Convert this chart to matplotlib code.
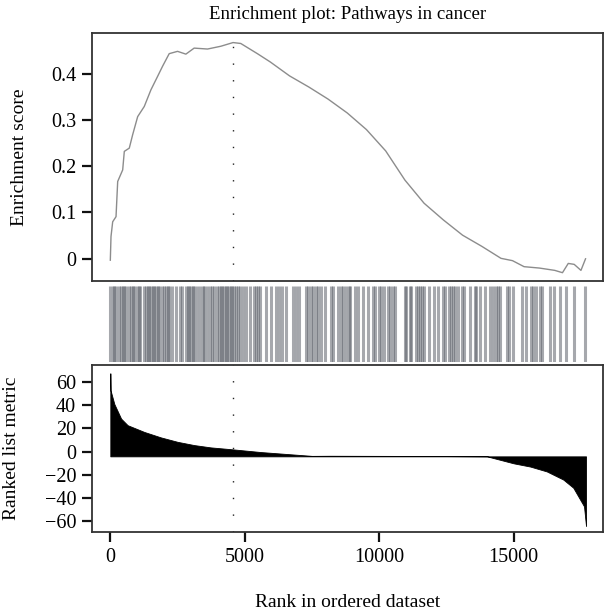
import matplotlib
matplotlib.use("Agg")
import matplotlib.pyplot as plt

plt.rcParams["font.family"] = ["Liberation Serif", "DejaVu Serif"]
plt.rcParams["font.size"] = 13.5

# --- running enrichment score (rank, ES) ---
es_rank = [0, 25, 88, 212, 274, 460, 520, 705, 831, 1017, 1263, 1511, 1759,
           1945, 2190, 2500, 2810, 3118, 3615, 4109, 4566, 4852, 5471, 5952,
           6667, 7383, 8097, 8812, 9528, 10243, 10958, 11671, 12387,
           13103, 13816, 14532, 14960, 15390, 15962, 16533, 16819, 17034,
           17255, 17506, 17677]
es_score = [-0.003, 0.048, 0.080, 0.091, 0.167, 0.192, 0.232, 0.239, 0.268,
            0.307, 0.329, 0.365, 0.394, 0.416, 0.443, 0.448, 0.442, 0.455,
            0.453, 0.459, 0.467, 0.465, 0.443, 0.425, 0.395, 0.371,
            0.345, 0.315, 0.279, 0.233, 0.170, 0.120, 0.084, 0.051, 0.027,
            0.001, -0.004, -0.017, -0.020, -0.025, -0.030, -0.010, -0.012,
            -0.025, 0.000]

# --- gene set hits (ranks) ---
hits = [0, 88, 150, 212, 335, 397, 459, 521, 583, 706, 768, 830, 892, 991,
        1053, 1115, 1263, 1325, 1387, 1449, 1511, 1573, 1634, 1696, 1758,
        1820, 1907, 1981, 2068, 2130, 2191, 2278, 2439, 2588, 2662, 2810,
        2872, 2934, 2996, 3058, 3120, 3206, 3330, 3429, 3491, 3590, 3701,
        3775, 3849, 3986, 4047, 4109, 4171, 4233, 4295, 4357, 4419, 4481,
        4543, 4605, 4666, 4753, 4827, 4951, 5038, 5199, 5348, 5422, 5496,
        5570, 5779, 5965, 6176, 6274, 6398, 6522, 6807, 6893, 7017, 7265,
        7352, 7451, 7537, 7636, 7723, 7823, 7971, 8193, 8280, 8466, 8564,
        8663, 8750, 8874, 8897, 9095, 9219, 9392, 9590, 9776, 9838, 9986,
        10085, 10184, 10332, 10394, 10518, 10605, 10951, 11013, 11136, 11198,
        11371, 11446, 11520, 11594, 11668, 11842, 12027, 12188, 12373, 12435,
        12608, 12683, 12757, 12831, 12918, 13078, 13165, 13375, 13549, 13610,
        13759, 13944, 14130, 14217, 14340, 14415, 14501, 14748, 14835, 14996,
        15317, 15478, 15651, 15738, 15825, 15985, 16072, 16357, 16517, 16715,
        16963, 17260, 17655]

# --- ranked list metric ---
metric_rank = [0, 10, 150, 400, 645, 1263, 1882, 2500, 3118, 3737, 4566,
               5594, 7500, 8190, 10000, 12000, 14010, 15000, 15620, 16237,
               16850, 17220, 17470, 17620, 17695]
metric_value = [67.5, 52.7, 41.0, 28.5, 22.8, 17.0, 12.3, 8.5, 5.7, 3.7, 2.0,
                -0.3, -3.6, -3.5, -3.6, -3.7, -4.0, -10.0, -12.8, -17.0,
                -24.0, -31.0, -41.0, -47.0, -64.0]
metric_base = -4.0

peak_rank = 4566
x_ticks = [0, 5000, 10000, 15000]
es_ticks = [0, 0.1, 0.2, 0.3, 0.4]
es_ticklabels = ["0", "0.1", "0.2", "0.3", "0.4"]
metric_ticks = [-60, -40, -20, 0, 20, 40, 60]

xlim = (-700, 18330)

fig = plt.figure(figsize=(6.04, 6.12), dpi=100)
ax1 = fig.add_axes([0.1515, 0.5408, 0.847, 0.4048])
ax2 = fig.add_axes([0.1515, 0.4085, 0.847, 0.1242])
ax3 = fig.add_axes([0.1515, 0.1302, 0.847, 0.2739])

spine_col = "#333333"
for ax in (ax1, ax3):
    for s in ax.spines.values():
        s.set_linewidth(1.3)
        s.set_color(spine_col)
    ax.tick_params(direction="out", length=7, width=1.6, color="#111111",
                   labelsize=14.5, pad=4)
    ax.set_xlim(*xlim)

# top: enrichment score
ax1.plot(es_rank, es_score, color="#8c8c8c", lw=1.0)
ax1.axvline(peak_rank, color="#222222", lw=1.0, ls=(0, (1, 11)))
ax1.set_ylim(-0.048, 0.487)
ax1.set_yticks(es_ticks)
ax1.set_yticklabels(es_ticklabels)
ax1.set_xticks([])
ax1.set_ylabel("Enrichment score", fontsize=14)
ax1.yaxis.set_label_coords(-0.125, 0.5)
ax1.set_title("Enrichment plot: Pathways in cancer", fontsize=13.5, pad=10)

# middle: hit barcode
ax2.vlines(hits, 0, 1, color="#5d626b", alpha=0.55, lw=2.2)
ax2.set_xlim(*xlim)
ax2.set_ylim(0, 1)
ax2.axis("off")

# bottom: ranked list metric
ax3.fill_between(metric_rank, metric_value, metric_base, color="black", lw=0.6)
ax3.axvline(peak_rank, color="#222222", lw=1.0, ls=(0, (1, 11)))
ax3.set_ylim(-69.4, 74.9)
ax3.set_yticks(metric_ticks)
ax3.set_xticks(x_ticks)
ax3.set_ylabel("Ranked list metric", fontsize=14)
ax3.yaxis.set_label_coords(-0.14, 0.5)
ax3.set_xlabel("Rank in ordered dataset", fontsize=14, labelpad=20)

fig.savefig("out.png", dpi=100)
